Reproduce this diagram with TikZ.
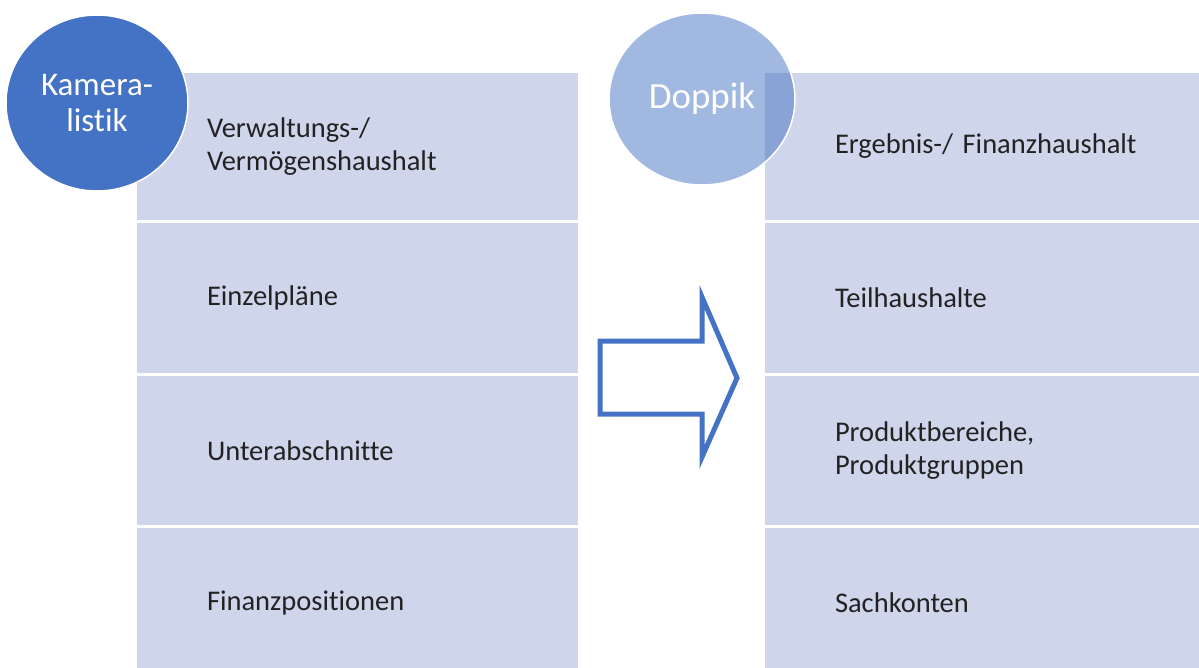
\documentclass[tikz,border=0pt]{standalone}
\usepackage{fontspec}
\setmainfont{Carlito}[Ligatures=NoCommon]
\usetikzlibrary{positioning,shapes.geometric}
\definecolor{officeblue}{HTML}{4472C4}
\definecolor{rowfill}{HTML}{CFD5EA}
\definecolor{rowtext}{HTML}{222222}
\tikzset{
    row box/.style={
        rectangle,
        fill=rowfill,
        align=left,
        minimum width=441pt,
        text width=301pt,
        inner xsep=70pt,
        outer sep=0pt,
        text=rowtext,
        font=\fontsize{28.5}{33}\selectfont,
    },
    wide row/.style={
        row box,
        minimum width=450pt,
        text width=310pt,
    },
    big circle/.style={
        ellipse,
        draw=white,
        line width=1.5pt,
        inner sep=0pt,
        text=white,
        align=center,
    },
    big arrow/.style={
        draw=officeblue,
        line width=5pt,
        line join=miter,
    },
}
\begin{document}
\begin{tikzpicture}[x=1pt,y=-1pt]
    \useasboundingbox (0,0) rectangle (1199,668);
    \clip (0,0) rectangle (1199,668);
    % Kameralistik
    \node[row box,minimum height=147pt,anchor=north west] (lrow1) at (137,73) {Verwaltungs-/\\Vermögenshaushalt};
    \node[row box,minimum height=150pt,below=3pt of lrow1] (lrow2) {Einzelpläne};
    \node[row box,minimum height=149pt,below=3pt of lrow2] (lrow3) {Unterabschnitte};
    \node[row box,minimum height=150pt,below=3pt of lrow3] (lrow4) {Finanzpositionen};
    % Doppik
    \node[wide row,minimum height=147pt,anchor=north west] (rrow1) at (765,73) {Ergebnis-/ Finanzhaushalt};
    \node[wide row,minimum height=150pt,below=3pt of rrow1] (rrow2) {Teilhaushalte};
    \node[wide row,minimum height=149pt,below=3pt of rrow2] (rrow3) {Produktbereiche,\\Produktgruppen};
    \node[wide row,minimum height=150pt,below=3pt of rrow3] (rrow4) {Sachkonten};
    \node[big circle,fill=officeblue,minimum width=182pt,minimum height=176pt,
        font=\fontsize{33}{36}\selectfont] (kam) at (97,103) {Kamera-\\listik};
    \node[big circle,fill=officeblue,fill opacity=0.5,text opacity=1,minimum width=186pt,
        minimum height=172pt,font=\fontsize{37}{40}\selectfont] (dop) at (702,99) {Doppik};
    % arrow between the columns
    \draw[big arrow] (600,341) -- (702,341) -- (702,297) -- (737,378)
        -- (702,457) -- (702,414) -- (600,414) -- cycle;
\end{tikzpicture}
\end{document}
